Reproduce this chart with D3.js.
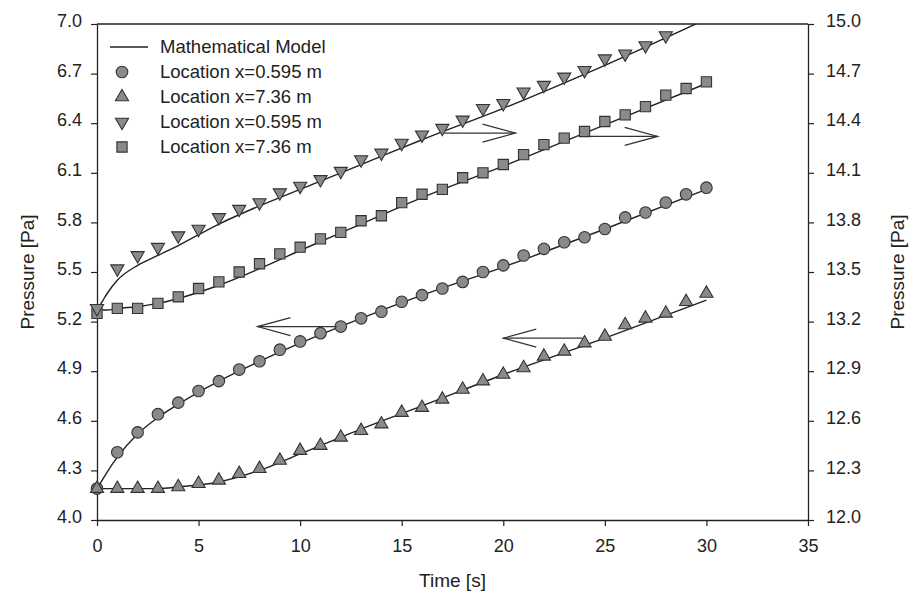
<!DOCTYPE html>
<html>
<head>
<meta charset="utf-8">
<script src="https://cdn.jsdelivr.net/npm/d3@7"></script>
<style>
  html, body { margin: 0; padding: 0; background: #fff; }
  svg text { font-family: Arial, "Liberation Sans", sans-serif; fill: #222; }
</style>
</head>
<body>
<svg id="chart" width="914" height="602"></svg>
<script>
// ---------- data ----------
const times = d3.range(0, 31); // 0..30 s
const xTicks = [0, 5, 10, 15, 20, 25, 30, 35];
const leftTicks = [4.0, 4.3, 4.6, 4.9, 5.2, 5.5, 5.8, 6.1, 6.4, 6.7, 7.0];
const rightTicks = [12.0, 12.3, 12.6, 12.9, 13.2, 13.5, 13.8, 14.1, 14.4, 14.7, 15.0];

// left axis: circles (x=0.595 m), up triangles (x=7.36 m)
const circleVals = [4.19, 4.41, 4.53, 4.64, 4.71, 4.78, 4.84, 4.91, 4.96, 5.03, 5.08,
  5.13, 5.17, 5.22, 5.26, 5.32, 5.36, 5.40, 5.44, 5.50, 5.54,
  5.60, 5.64, 5.68, 5.71, 5.76, 5.83, 5.86, 5.92, 5.97, 6.01];
const upTriVals = [4.19, 4.19, 4.19, 4.19, 4.20, 4.22, 4.24, 4.28, 4.31, 4.36, 4.42,
  4.45, 4.50, 4.54, 4.58, 4.65, 4.68, 4.73, 4.79, 4.84, 4.88,
  4.92, 4.99, 5.02, 5.07, 5.11, 5.18, 5.22, 5.25, 5.32, 5.37];
// right axis: down triangles (x=0.595 m), squares (x=7.36 m)
const downTriVals = [13.28, 13.52, 13.60, 13.65, 13.72, 13.76, 13.83, 13.88, 13.92, 13.98, 14.02,
  14.06, 14.11, 14.18, 14.22, 14.28, 14.33, 14.37, 14.42, 14.49, 14.52,
  14.59, 14.63, 14.68, 14.72, 14.79, 14.82, 14.87, 14.93];
const squareVals = [13.25, 13.28, 13.28, 13.31, 13.35, 13.40, 13.44, 13.50, 13.55, 13.61, 13.65,
  13.70, 13.74, 13.81, 13.84, 13.92, 13.97, 14.00, 14.07, 14.10, 14.15,
  14.21, 14.27, 14.31, 14.35, 14.41, 14.45, 14.50, 14.57, 14.61, 14.65];

// mathematical model curves
const modelT = [0, 0.25, 0.5, 1, 2, 3, 4, 6, 8, 10, 13, 16, 20, 25, 30];
const modelCircle  = [4.19, 4.24, 4.29, 4.38, 4.52, 4.62, 4.70, 4.84, 4.96, 5.07, 5.22, 5.36, 5.53, 5.76, 6.00];
const modelUpTri   = [4.19, 4.19, 4.19, 4.19, 4.19, 4.19, 4.20, 4.23, 4.30, 4.40, 4.55, 4.69, 4.88, 5.10, 5.33];
const modelDownTri = [13.27, 13.32, 13.37, 13.45, 13.54, 13.60, 13.66, 13.79, 13.90, 14.00, 14.15, 14.30, 14.49, 14.75, 15.03];
const modelSquare  = [13.27, 13.27, 13.27, 13.28, 13.29, 13.31, 13.34, 13.42, 13.52, 13.63, 13.79, 13.95, 14.14, 14.39, 14.64];

// annotation arrows (axis, from [t, p], to [t, p])
const arrows = [
  { axis: "right", from: [17.1, 14.34], to: [20.6, 14.34] },
  { axis: "right", from: [24.1, 14.32], to: [27.6, 14.32] },
  { axis: "left",  from: [11.8, 5.17], to: [7.9, 5.17] },
  { axis: "left",  from: [23.9, 5.10], to: [20.0, 5.10] }
];

const legendLabels = ["Mathematical Model", "Location x=0.595 m", "Location x=7.36 m",
  "Location x=0.595 m", "Location x=7.36 m"];

// ---------- layout ----------
const svg = d3.select("#chart");
const X0 = 97, X1 = 808, Y0 = 520, Y1 = 24;
const x = d3.scaleLinear().domain([0, 35]).range([X0, X1]);
const yL = d3.scaleLinear().domain([4, 7]).range([Y0, Y1]);
const yR = d3.scaleLinear().domain([12, 15]).range([Y0, Y1]);
const ink = "#222";
const markFill = "#8a8a8a";
const markStroke = "#333";

svg.append("defs").append("clipPath").attr("id", "plot")
  .append("rect").attr("x", X0 - 8).attr("y", Y1).attr("width", X1 - X0 + 16).attr("height", Y0 - Y1 + 8);

// axes
function styleAxis(g) {
  g.selectAll("path.domain").attr("stroke", ink).attr("stroke-width", 1.3);
  g.selectAll(".tick line").attr("stroke", ink).attr("stroke-width", 1.2);
  g.selectAll(".tick text").attr("font-size", 18).attr("fill", "#222")
    .style("font-family", "Arial, 'Liberation Sans', sans-serif");
}
svg.append("g").attr("transform", `translate(0,${Y0})`)
  .call(d3.axisBottom(x).tickValues(xTicks).tickSize(6).tickPadding(13).tickFormat(d3.format("d")).tickSizeOuter(0))
  .call(styleAxis);
svg.append("g").attr("transform", `translate(${X0},0)`)
  .call(d3.axisLeft(yL).tickValues(leftTicks).tickSize(6).tickPadding(9).tickFormat(d3.format(".1f")).tickSizeOuter(0))
  .call(styleAxis)
  .selectAll(".tick text").attr("dy", "0.15em");
svg.append("g").attr("transform", `translate(${X1},0)`)
  .call(d3.axisRight(yR).tickValues(rightTicks).tickSize(6).tickPadding(12).tickFormat(d3.format(".1f")).tickSizeOuter(0))
  .call(styleAxis)
  .selectAll(".tick text").attr("dy", "0.15em");
// top frame line
svg.append("line").attr("x1", X0).attr("x2", X1).attr("y1", Y1).attr("y2", Y1)
  .attr("stroke", ink).attr("stroke-width", 1.6);

// axis titles
svg.append("text").attr("x", x(17.5)).attr("y", 587).attr("text-anchor", "middle")
  .attr("font-size", 19).text("Time [s]");
svg.append("text").attr("transform", `translate(34,${(Y0 + Y1) / 2}) rotate(-90)`)
  .attr("text-anchor", "middle").attr("font-size", 19).text("Pressure [Pa]");
svg.append("text").attr("transform", `translate(904,${(Y0 + Y1) / 2}) rotate(-90)`)
  .attr("text-anchor", "middle").attr("font-size", 19).text("Pressure [Pa]");

// model lines
const plot = svg.append("g").attr("clip-path", "url(#plot)");
function modelLine(vals, ys) {
  const line = d3.line().x((d, i) => x(modelT[i])).y(d => ys(d)).curve(d3.curveMonotoneX);
  plot.append("path").attr("d", line(vals)).attr("fill", "none")
    .attr("stroke", ink).attr("stroke-width", 1.4);
}
modelLine(modelCircle, yL);
modelLine(modelUpTri, yL);
modelLine(modelDownTri, yR);
modelLine(modelSquare, yR);

// markers
const symCircle = d3.symbol().type(d3.symbolCircle).size(105);
const symTri = d3.symbol().type(d3.symbolTriangle).size(75);
const symSquare = d3.symbol().type(d3.symbolSquare).size(105);
function markers(vals, ys, sym, rot) {
  plot.append("g").selectAll("path").data(vals).join("path")
    .attr("d", sym())
    .attr("transform", (d, i) => `translate(${x(times[i])},${ys(d)}) rotate(${rot})`)
    .attr("fill", markFill).attr("stroke", markStroke).attr("stroke-width", 1.1);
}
markers(circleVals, yL, symCircle, 0);
markers(upTriVals, yL, symTri, 0);
markers(squareVals, yR, symSquare, 0);
markers(downTriVals, yR, symTri, 180);

// arrows
arrows.forEach(a => {
  const ys = a.axis === "left" ? yL : yR;
  const x1 = x(a.from[0]), y1 = ys(a.from[1]), x2 = x(a.to[0]), y2 = ys(a.to[1]);
  const dir = Math.sign(x2 - x1);
  const g = svg.append("g").attr("stroke", "#333").attr("stroke-width", 1.2).attr("fill", "none");
  g.append("line").attr("x1", x1).attr("y1", y1).attr("x2", x2).attr("y2", y2);
  g.append("polyline").attr("points",
    `${x2 - dir * 33},${y2 - 9} ${x2},${y2} ${x2 - dir * 33},${y2 + 9}`);
});

// legend
const lg = svg.append("g");
const rowY = i => 47 + 25 * i;
lg.append("line").attr("x1", 110).attr("x2", 148).attr("y1", rowY(0)).attr("y2", rowY(0))
  .attr("stroke", ink).attr("stroke-width", 1.4);
const legSyms = [[symCircle, 0], [symTri, 0], [symTri, 180], [symSquare, 0]];
legSyms.forEach((s, i) => {
  lg.append("path").attr("d", s[0]())
    .attr("transform", `translate(122,${rowY(i + 1)}) rotate(${s[1]})`)
    .attr("fill", markFill).attr("stroke", markStroke).attr("stroke-width", 1.1);
});
legendLabels.forEach((t, i) => {
  lg.append("text").attr("x", 160).attr("y", rowY(i)).attr("dy", "0.35em")
    .attr("font-size", 18.5).text(t);
});
</script>
</body>
</html>
